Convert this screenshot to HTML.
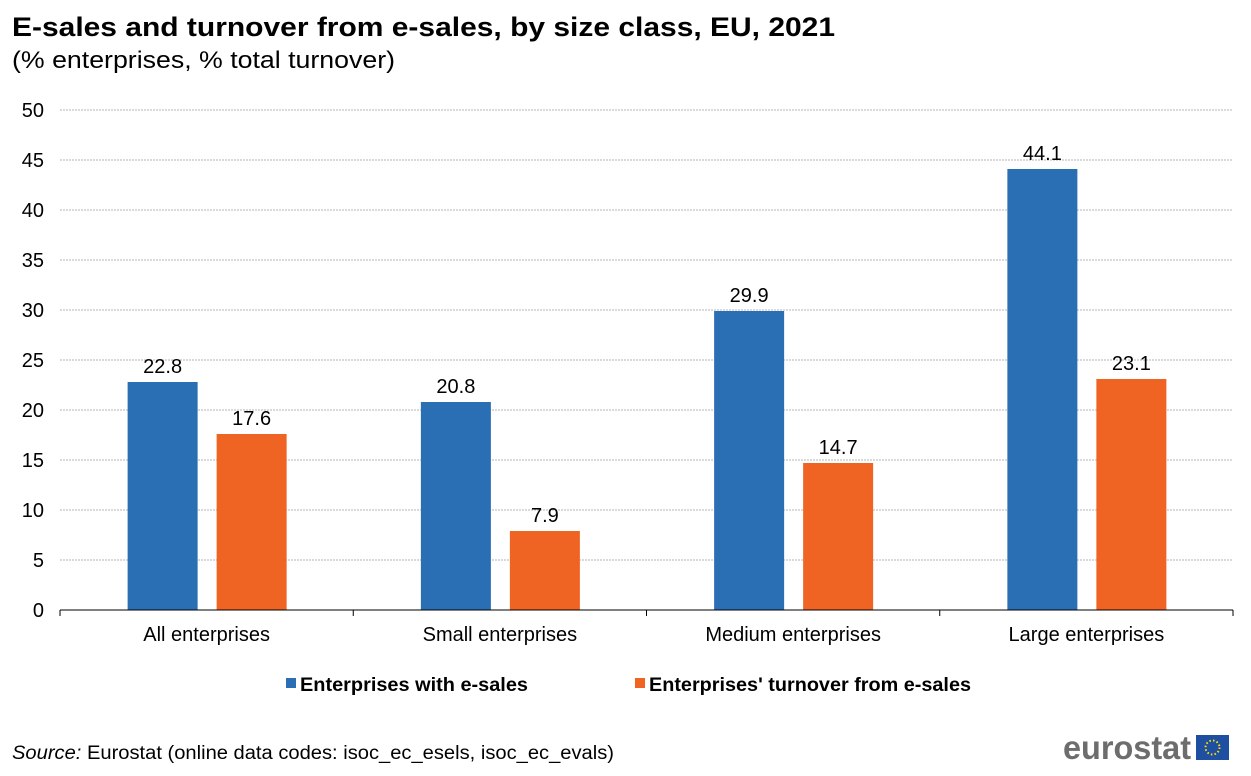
<!DOCTYPE html>
<html><head><meta charset="utf-8"><style>
body{margin:0;background:#fff;font-family:"Liberation Sans",Arial,sans-serif}
</style></head><body>
<svg width="1251" height="771" xmlns="http://www.w3.org/2000/svg" font-family="Liberation Sans, Arial, sans-serif">
<text x="12" y="36" font-size="27" font-weight="bold" fill="#000" textLength="823" lengthAdjust="spacingAndGlyphs">E-sales and turnover from e-sales, by size class, EU, 2021</text>
<text x="12" y="68" font-size="24" fill="#000" textLength="383" lengthAdjust="spacingAndGlyphs">(% enterprises, % total turnover)</text>
<g id="grid"></g><g id="bars"></g><g id="axis"></g>
<g>
<rect x="286" y="678" width="10" height="10" fill="#2a6eb4"/>
<text x="300" y="691" font-size="19" font-weight="bold" textLength="228" lengthAdjust="spacingAndGlyphs">Enterprises with e-sales</text>
<rect x="635" y="678" width="10" height="10" fill="#ef6423"/>
<text x="649" y="691" font-size="19" font-weight="bold" textLength="322" lengthAdjust="spacingAndGlyphs">Enterprises' turnover from e-sales</text>
</g>
<text x="12" y="759" font-size="19" textLength="602" lengthAdjust="spacingAndGlyphs"><tspan font-style="italic">Source:</tspan> Eurostat (online data codes: isoc_ec_esels, isoc_ec_evals)</text>
<g>
<text x="1063" y="759" font-size="33" font-weight="bold" fill="#6d6d6d" textLength="128" lengthAdjust="spacingAndGlyphs">eurostat</text>
<rect x="1196" y="735" width="33" height="25" fill="#1f4fa0"/>
<circle cx="1212.5" cy="747.5" r="7" fill="none" stroke="#ffde00" stroke-width="2" stroke-dasharray="1.5 2.2"/>
</g>
</svg>
<script>
const categories=["All enterprises","Small enterprises","Medium enterprises","Large enterprises"];
const esales=[22.8,20.8,29.9,44.1];
const turnover=[17.6,7.9,14.7,23.1];
const yTicks=[0,5,10,15,20,25,30,35,40,45,50];
const NS="http://www.w3.org/2000/svg";
const x0=60,x1=1233,yBase=610,yTop=110,ymax=50;
const y=v=>yBase-(v/ymax)*(yBase-yTop);
const bw=(x1-x0)/categories.length;
function mk(t,a,p){const e=document.createElementNS(NS,t);for(const k in a)e.setAttribute(k,a[k]);p.appendChild(e);return e;}
const grid=document.getElementById('grid'),bars=document.getElementById('bars'),axis=document.getElementById('axis');
yTicks.forEach(v=>{
 if(v>0){const l=mk('line',{x1:x0,x2:x1,y1:y(v),y2:y(v),stroke:'#b4b4b4','stroke-width':1,'stroke-dasharray':'2 1'},grid);
 
 }
 const t=mk('text',{x:44,y:y(v)+7,'font-size':20,'text-anchor':'end'},axis);t.textContent=v;
 
 
});
const ax=mk('line',{x1:x0,x2:x1,y1:yBase,y2:yBase,stroke:'#000','stroke-width':1},axis);


for(let i=0;i<=categories.length;i++){const tk=mk('line',{x1:x0+i*bw,x2:x0+i*bw,y1:yBase,y2:yBase+6,stroke:'#000'},axis);
 
 }
categories.forEach((c,i)=>{
 const cx=x0+(i+0.5)*bw;
 const t=mk('text',{x:cx,y:641,'font-size':20,'text-anchor':'middle'},axis);t.textContent=c;
 
 
 [[esales[i],'#2a6eb4',cx-79,'esales'],[turnover[i],'#ef6423',cx+10,'turnover']].forEach(([v,col,bx,nm])=>{
  const r=mk('rect',{x:bx,y:y(v),width:70,height:yBase-y(v),fill:col},bars);
  
  
  const lb=mk('text',{x:bx+35,y:y(v)-9,'font-size':20,'text-anchor':'middle'},bars);lb.textContent=v.toFixed(1);
  
  
 });
});
</script>
</body></html>
